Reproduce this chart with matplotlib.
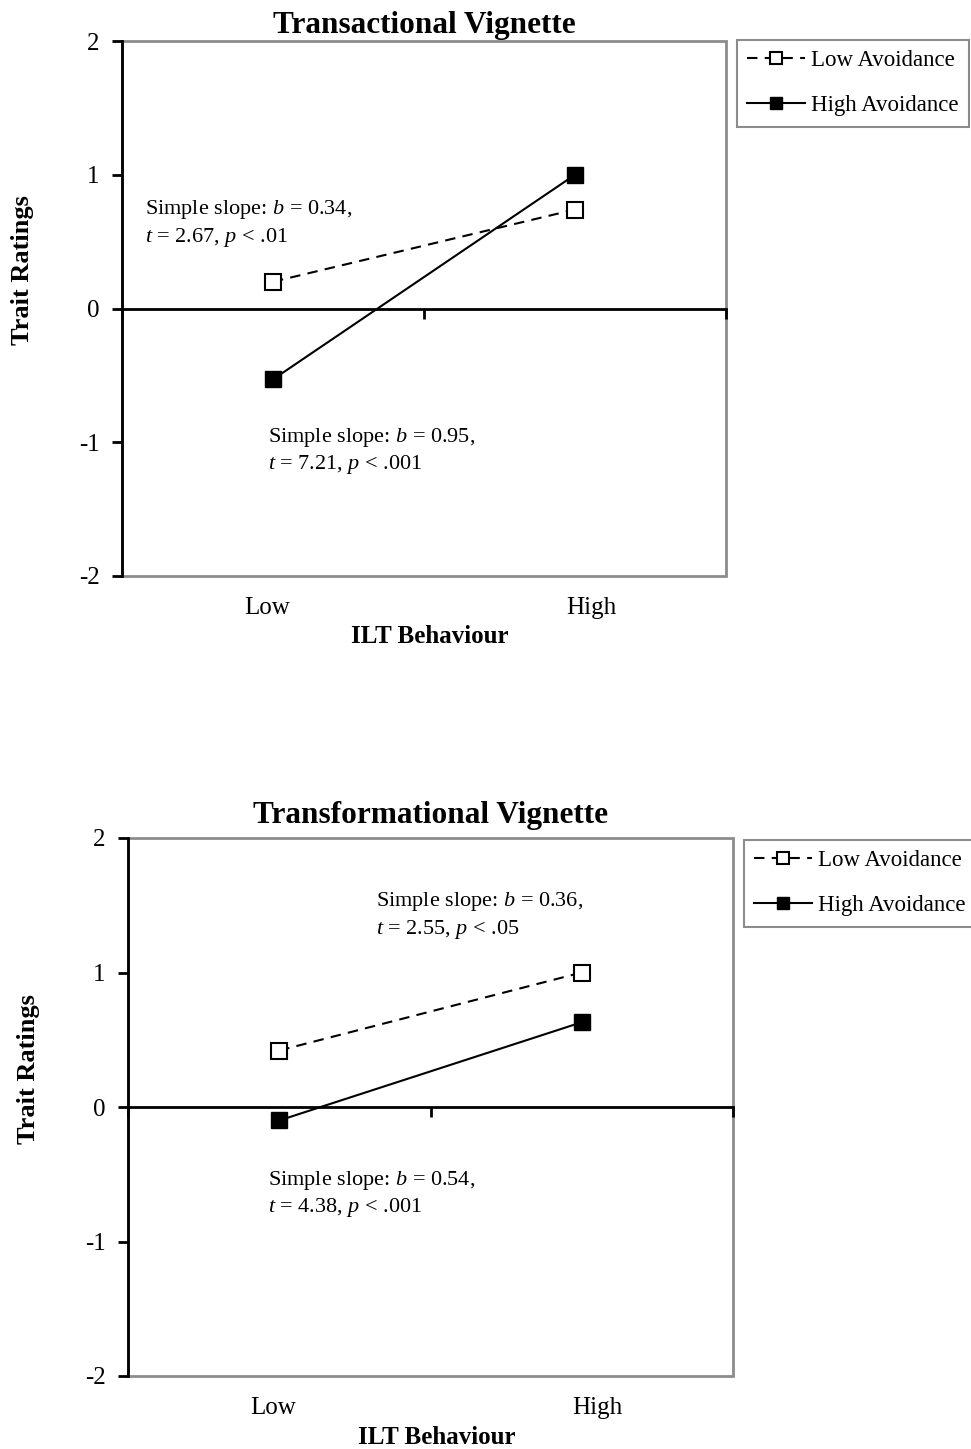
import matplotlib
matplotlib.use("Agg")
import matplotlib.pyplot as plt
from matplotlib.patches import Rectangle

plt.rcParams['font.family'] = ['Liberation Serif', 'DejaVu Serif']
plt.rcParams['mathtext.fontset'] = 'custom'
plt.rcParams['mathtext.rm'] = 'Liberation Serif'
plt.rcParams['mathtext.it'] = 'Liberation Serif:italic'

# data
categories = ["Low", "High"]
series_names = ["Low Avoidance", "High Avoidance"]
transactional_low = [0.20, 0.74]
transactional_high = [-0.53, 1.00]
transformational_low = [0.42, 1.00]
transformational_high = [-0.10, 0.63]
yticks = [-2, -1, 0, 1, 2]

panels = [
    {
        "title": "Transactional Vignette",
        "title_gap": 16,
        "low": transactional_low,
        "high": transactional_high,
        "rect": [122 / 971, 1 - 576 / 1449, 604 / 971, 535 / 1449],
        "legend_at": (737 / 971, 1 - 40 / 1449),
        "notes": [
            (0.038, 0.636, "Simple slope: $b$ = 0.34,\n$t$ = 2.67, $p$ < .01"),
            (0.242, -1.065, "Simple slope: $b$ = 0.95,\n$t$ = 7.21, $p$ < .001"),
        ],
    },
    {
        "title": "Transformational Vignette",
        "title_gap": 22,
        "low": transformational_low,
        "high": transformational_high,
        "rect": [128 / 971, 1 - 1376 / 1449, 605 / 971, 538 / 1449],
        "legend_at": (744 / 971, 1 - 840 / 1449),
        "notes": [
            (0.410, 1.424, "Simple slope: $b$ = 0.36,\n$t$ = 2.55, $p$ < .05"),
            (0.231, -0.647, "Simple slope: $b$ = 0.54,\n$t$ = 4.38, $p$ < .001"),
        ],
    },
]

fig = plt.figure(figsize=(9.71, 14.49), dpi=100)
xpos = [0.5, 1.5]
label_shift = [-0.02, 0.053]  # category labels sit a bit off-centre in the original

for p in panels:
    ax = fig.add_axes(p["rect"])
    ax.set_xlim(0, 2)
    ax.set_ylim(-2, 2)

    ax.plot(xpos, p["low"], color="black", lw=1.5, ls=(0, (5, 3.5)),
            marker="s", ms=11, mfc="white", mec="black", mew=1.5,
            label=series_names[0], zorder=3)
    ax.plot(xpos, p["high"], color="black", lw=1.5, ls="-",
            marker="s", ms=11, mfc="black", mec="black",
            label=series_names[1], zorder=3)

    # gray plot-area frame
    ax.add_patch(Rectangle((0, 0), 1, 1, transform=ax.transAxes, fill=False,
                           ec="#8c8c8c", lw=2, clip_on=False, zorder=1))
    for s in ["top", "right"]:
        ax.spines[s].set_visible(False)
    ax.spines["left"].set_linewidth(2)
    ax.spines["left"].set_zorder(2)
    ax.spines["bottom"].set_position(("data", 0))
    ax.spines["bottom"].set_linewidth(2)

    ax.set_yticks(yticks)
    ax.set_yticklabels([str(v) for v in yticks])
    ax.tick_params(axis="y", direction="out", length=7, width=2,
                   labelsize=18, pad=9)
    ax.set_xticks([0, 1, 2])
    ax.set_xticklabels([])
    ax.tick_params(axis="x", direction="out", length=7, width=2)

    for x, dx, lab in zip(xpos, label_shift, categories):
        ax.text(x + dx, -0.06, lab, transform=ax.get_xaxis_transform(),
                ha="center", va="center", fontsize=18)

    ax.text(0.51, -0.114, "ILT Behaviour", transform=ax.transAxes,
            ha="center", va="center", fontsize=18, fontweight="bold")
    ax.set_ylabel("Trait Ratings", fontsize=19, fontweight="bold")
    ax.yaxis.set_label_coords(-0.145, 0.571)
    ax.text(0.5, 1 + p["title_gap"] / 535, p["title"], transform=ax.transAxes,
            ha="center", va="center", fontsize=22.5, fontweight="bold")

    for nx, ny, txt in p["notes"]:
        ax.text(nx, ny, txt, transform=ax.get_yaxis_transform(),
                ha="left", va="center", fontsize=16, linespacing=1.3)

    leg = ax.legend(loc="upper left", bbox_to_anchor=p["legend_at"],
                    bbox_transform=fig.transFigure, fontsize=16.5,
                    fancybox=False, edgecolor="#8c8c8c", framealpha=1,
                    handlelength=2.5, handletextpad=0.3, labelspacing=1.05,
                    borderpad=0.45, borderaxespad=0, markerscale=0.75)
    leg.get_frame().set_linewidth(1.5)

fig.savefig("out.png", dpi=100)
